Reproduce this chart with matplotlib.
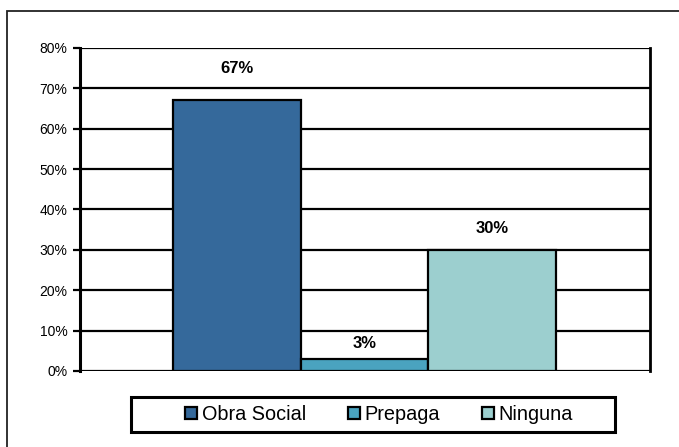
import matplotlib
matplotlib.use("Agg")
import matplotlib.pyplot as plt
from matplotlib.patches import Rectangle
from matplotlib.lines import Line2D

categories = ["Obra Social", "Prepaga", "Ninguna"]
values = [67, 3, 30]
labels = ["67%", "3%", "30%"]
colors = ["#35699b", "#4aa3bf", "#9ccfcf"]
label_offsets = [8.0, 3.7, 5.4]
yticks = [0, 10, 20, 30, 40, 50, 60, 70, 80]

plt.rcParams['font.family'] = ['Liberation Sans', 'DejaVu Sans']

fig = plt.figure(figsize=(6.79, 4.47), dpi=100)
fig.patches.append(Rectangle((7/679, -0.1), 1.2, 1.1 - 11/447, transform=fig.transFigure,
                             fill=False, edgecolor="#222222", linewidth=1.3, zorder=0))
ax = fig.add_axes([80/679, 1 - 371/447, (650-80)/679, (371-48)/447])

x = list(range(len(categories)))
ax.bar(x, values, width=1.0, color=colors, edgecolor="black", linewidth=1.6, zorder=3)
for xi, v, lab, off in zip(x, values, labels, label_offsets):
    ax.text(xi, v + off, lab, ha="center", va="center", fontsize=12, fontweight="bold", zorder=4)

ax.set_ylim(0, 80)
ax.set_xlim(-1.23, 3.24)
ax.set_yticks(yticks)
ax.set_yticklabels([f"{t}%" for t in yticks], fontsize=10)
ax.set_xticks([])
ax.yaxis.grid(True, color="black", linewidth=1.6, zorder=1)
ax.set_axisbelow(True)
for s in ["top", "bottom"]:
    ax.spines[s].set_visible(False)
ax.spines["left"].set_linewidth(2.2)
ax.spines["right"].set_linewidth(2.0)
ax.tick_params(axis="y", length=5, width=1.6, pad=4)

# legend frame
fig.patches.append(Rectangle((131/679, 1 - 432/447), (615-131)/679, (432-397)/447,
                             transform=fig.transFigure, fill=False, edgecolor="black",
                             linewidth=2.2, zorder=5))
handles = [Line2D([], [], marker="s", linestyle="none", markersize=8.5, markerfacecolor=c,
                  markeredgecolor="black", markeredgewidth=1.6) for c in colors]
leg = fig.legend(handles, categories, loc="center", bbox_to_anchor=(378/679, 1 - 414.5/447),
                 bbox_transform=fig.transFigure, ncol=3, fontsize=14.3, frameon=False,
                 handletextpad=0.15, columnspacing=2.0, handlelength=0.8,
                 borderpad=0.0, borderaxespad=0)

fig.savefig("out.png", dpi=100)
